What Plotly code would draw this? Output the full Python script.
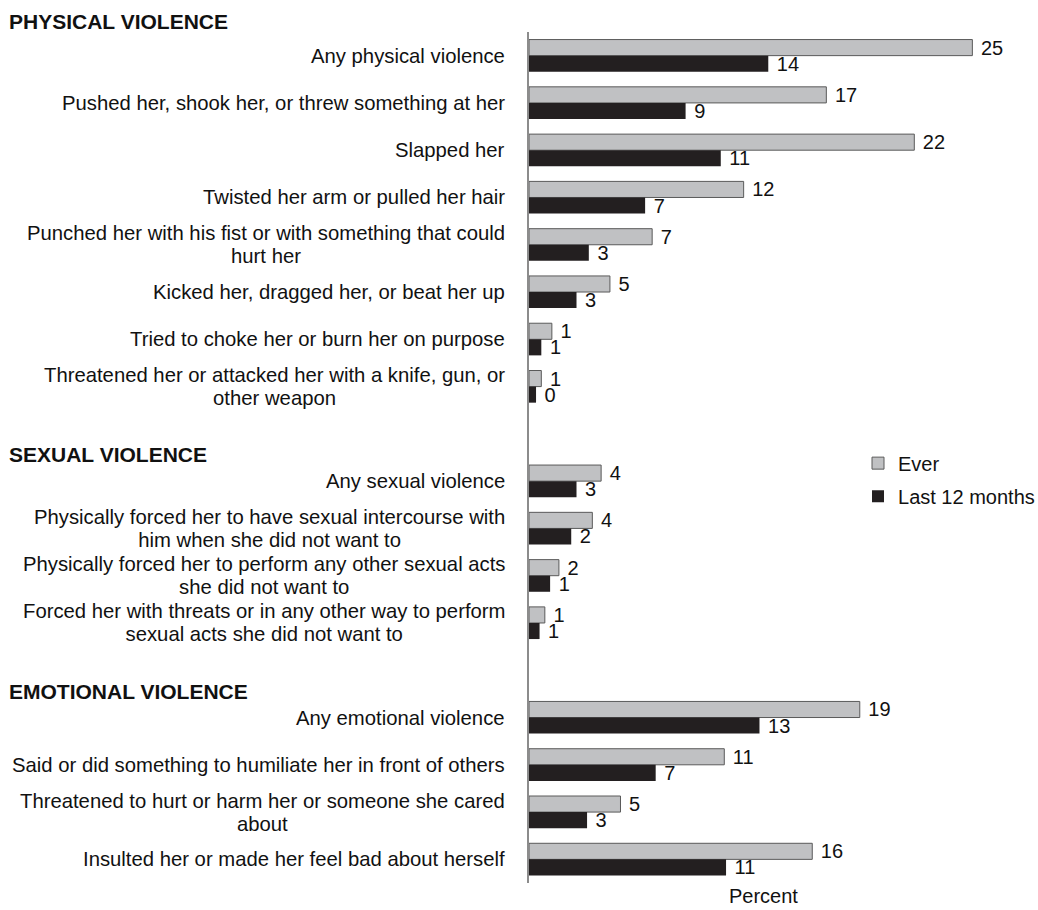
import plotly.graph_objects as go

# ---------------- data ----------------
phys_labels = [
    "Any physical violence",
    "Pushed her, shook her, or threw something at her",
    "Slapped her",
    "Twisted her arm or pulled her hair",
    "Punched her with his fist or with something that could<br>hurt her",
    "Kicked her, dragged her, or beat her up",
    "Tried to choke her or burn her on purpose",
    "Threatened her or attacked her with a knife, gun, or<br>other weapon",
]
phys_ever = [25.2, 16.9, 21.9, 12.2, 7.0, 4.6, 1.3, 0.7]
phys_last12 = [13.6, 8.9, 10.9, 6.6, 3.4, 2.7, 0.7, 0.4]

sex_labels = [
    "Any sexual violence",
    "Physically forced her to have sexual intercourse with<br>him when she did not want to",
    "Physically forced her to perform any other sexual acts<br>she did not want to",
    "Forced her with threats or in any other way to perform<br>sexual acts she did not want to",
]
sex_ever = [4.1, 3.6, 1.7, 0.9]
sex_last12 = [2.7, 2.4, 1.2, 0.6]

emo_labels = [
    "Any emotional violence",
    "Said or did something to humiliate her in front of others",
    "Threatened to hurt or harm her or someone she cared<br>about",
    "Insulted her or made her feel bad about herself",
]
emo_ever = [18.8, 11.1, 5.2, 16.1]
emo_last12 = [13.1, 7.2, 3.3, 11.2]

section_names = ["PHYSICAL VIOLENCE", "SEXUAL VIOLENCE", "EMOTIONAL VIOLENCE"]
series_names = ["Ever", "Last 12 months"]

sections = [
    (section_names[0], phys_labels, phys_ever, phys_last12),
    (section_names[1], sex_labels, sex_ever, sex_last12),
    (section_names[2], emo_labels, emo_ever, emo_last12),
]

# ---------------- build rows ----------------
rows_y, rows_label, vals_ever, vals_last = [], [], [], []
header_rows = []
r = 0
for name, labs, ev, lv in sections:
    header_rows.append((name, r))
    r += 1
    for lab, e, l in zip(labs, ev, lv):
        rows_y.append(r)
        rows_label.append(lab)
        vals_ever.append(e)
        vals_last.append(l)
        r += 1
last_row = r - 1

FONT = "Liberation Sans, Arial, Helvetica, sans-serif"
W, H = 1038, 910
ML, MR, MT, MB = 529, 41, 32, 27
LABEL_SIZE = 20.3

fig = go.Figure()
fig.add_trace(go.Bar(
    name=series_names[0], y=rows_y, x=vals_ever, orientation="h",
    marker=dict(color="#c0c1c3", line=dict(color="#5a5a5a", width=1)),
    texttemplate="\u00a0%{x:.0f}", textposition="outside",
    textfont=dict(family=FONT, size=20, color="#111"),
    cliponaxis=False, constraintext="none", legendgroup="a",
))
fig.add_trace(go.Bar(
    name=series_names[1], y=rows_y, x=vals_last, orientation="h",
    marker=dict(color="#231f20", line=dict(color="#231f20", width=0)),
    texttemplate="\u00a0%{x:.0f}", textposition="outside",
    textfont=dict(family=FONT, size=20, color="#111"),
    cliponaxis=False, constraintext="none", legendgroup="b",
))

annotations = []
# category labels
for y, lab in zip(rows_y, rows_label):
    if "<br>" in lab:
        txt = "<br>".join(
            "<span style='font-size:%spx'>%s</span>" % (LABEL_SIZE, p)
            for p in lab.split("<br>"))
        size = 17.7
    else:
        txt = lab
        size = LABEL_SIZE
    annotations.append(dict(
        xref="paper", yref="y", x=0, y=y, xshift=-22, xanchor="right",
        yanchor="middle", align="center", showarrow=False, text=txt,
        font=dict(family=FONT, size=size, color="#111"),
    ))
# section headers
for i, (name, row) in enumerate(header_rows):
    if i == 0:
        annotations.append(dict(
            xref="paper", yref="paper", x=0, y=1, xshift=7 - ML, yshift=11,
            xanchor="left", yanchor="middle", showarrow=False,
            text="<b>%s</b>" % name, font=dict(family=FONT, size=21, color="#111"),
        ))
    else:
        annotations.append(dict(
            xref="paper", yref="y", x=0, y=row, xshift=7 - ML, yshift=-21,
            xanchor="left", yanchor="middle", showarrow=False,
            text="<b>%s</b>" % name, font=dict(family=FONT, size=21, color="#111"),
        ))
# axis title
annotations.append(dict(
    xref="paper", yref="paper", x=0.5, y=0, yshift=-13, xanchor="center",
    yanchor="middle", showarrow=False, text="Percent",
    font=dict(family=FONT, size=20, color="#111"),
))

fig.update_layout(
    width=W, height=H,
    margin=dict(l=ML, r=MR, t=MT, b=MB, pad=0, autoexpand=False),
    paper_bgcolor="white", plot_bgcolor="white",
    barmode="group", bargap=0.32, bargroupgap=0,
    font=dict(family=FONT, size=20, color="#111"),
    showlegend=True,
    legend=dict(
        x=0.703, y=0.474, xanchor="left", yanchor="middle",
        font=dict(family=FONT, size=20, color="#111"),
        bgcolor="rgba(0,0,0,0)", borderwidth=0,
        traceorder="grouped", tracegroupgap=4,
    ),
    annotations=annotations,
)
fig.update_xaxes(
    range=[0, 26.6], showgrid=False, zeroline=False, showline=False,
    showticklabels=False, ticks="", automargin=False,
)
fig.update_yaxes(
    range=[last_row + 0.5, 0.5], showgrid=False, zeroline=False,
    showline=True, linecolor="#8c8c8c", linewidth=2,
    showticklabels=False, ticks="", automargin=False,
)

fig.write_html(
    "out.html",
    config={"displayModeBar": False},
    post_script="document.body.style.margin='0px';document.body.style.overflow='hidden';",
)
